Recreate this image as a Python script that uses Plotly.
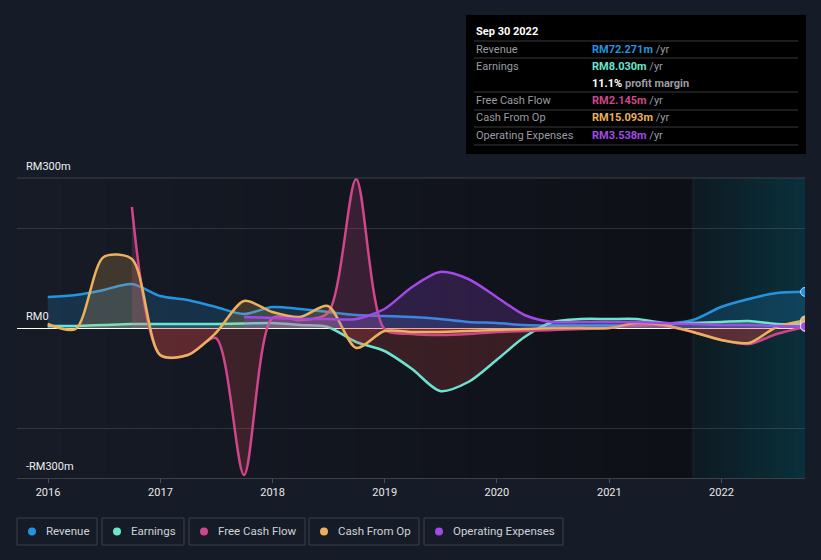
import plotly.graph_objects as go

# ---------------- data (RM millions, trailing twelve months) ----------------
dates_full = ["2015-12-31", "2016-03-31", "2016-06-30", "2016-09-30",
              "2016-12-31", "2017-03-31", "2017-06-30", "2017-09-30",
              "2017-12-31", "2018-03-31", "2018-06-30", "2018-09-30",
              "2018-12-31", "2019-03-31", "2019-06-30", "2019-09-30",
              "2019-12-31", "2020-03-31", "2020-06-30", "2020-09-30",
              "2020-12-31", "2021-03-31", "2021-06-30", "2021-09-30",
              "2021-12-31", "2022-03-31", "2022-06-30", "2022-09-30"]
revenue = [62, 66, 76, 88, 64, 56, 42, 28, 42, 38, 32, 26, 24, 22, 18, 12,
           10, 6, 5, 5, 5, 5, 8, 16, 42, 58, 70, 72.271]
earnings = [4, 4, 6, 8, 8, 8, 8, 9, 10, 6, 2, -28, -46, -82, -126, -108,
            -64, -18, 12, 18, 18, 18, 10, 10, 12, 14, 8, 8.030]
cash_from_op = [8, -2, 142, 138, -54, -54, -10, 54, 32, 22, 44, -40, -6, -8,
                -8, -6, -4, -2, 0, 0, 0, 10, 6, -8, -24, -30, 2, 15.093]
dates_fcf = dates_full[3:]
free_cash_flow = [242, -54, -54, -20, -294, 20, 16, 30, 298, -2, -12, -14, -12,
                  -8, -6, -4, -2, 0, 6, 4, -8, -24, -32, -12, 2.145]
dates_opex = dates_full[7:]
operating_expenses = [22, 20, 18, 18, 18, 38, 82, 112, 98, 62, 26, 12, 12, 12,
                      12, 10, 8, 6, 6, 4, 3.538]

year_ticks = ["2016-01-01", "2017-01-01", "2018-01-01", "2019-01-01",
              "2020-01-01", "2021-01-01", "2022-01-01"]
year_labels = ["2016", "2017", "2018", "2019", "2020", "2021", "2022"]

series_names = ["Revenue", "Earnings", "Free Cash Flow", "Cash From Op", "Operating Expenses"]
series_colors = ["#2394df", "#6ce5cf", "#d0468a", "#ecb15c", "#a349e8"]
tooltip_values = ["RM72.271m", "RM8.030m", "RM2.145m", "RM15.093m", "RM3.538m"]

# ---------------- helpers ----------------
W, H = 821, 560
L, R, T, B = 17, 16, 178, 82
PW, PH = W - L - R, H - T - B


def px(x):
    return (x - L) / PW


def py(y):
    return (H - B - y) / PH


def rgba(hexc, a):
    h = hexc.lstrip("#")
    r, g, b = int(h[0:2], 16), int(h[2:4], 16), int(h[4:6], 16)
    return f"rgba({r},{g},{b},{a})"


NEG = "#e04848"

fig = go.Figure()

series = [
    (dates_full, revenue),
    (dates_full, earnings),
    (dates_fcf, free_cash_flow),
    (dates_full, cash_from_op),
    (dates_opex, operating_expenses),
]

for (xs, ys), name, col in zip(series, series_names, series_colors):
    pos = rgba(col, 0.2)
    neg = rgba(NEG, 0.2)
    fig.add_trace(go.Scatter(
        x=xs, y=ys, name=name, mode="lines",
        line=dict(color=col, width=2.5, shape="spline", smoothing=0.8),
        fill="tozeroy",
        fillgradient=dict(type="vertical", start=-300, stop=300,
                          colorscale=[[0, neg], [0.5, neg], [0.5, pos], [1, pos]]),
        hoverinfo="skip", showlegend=False,
    ))

for (xs, ys), col in zip(series, series_colors):
    fig.add_trace(go.Scatter(
        x=[xs[-1]], y=[ys[-1]], mode="markers",
        marker=dict(color=col, size=9, line=dict(color="rgba(230,240,255,0.75)", width=1)),
        hoverinfo="skip", showlegend=False,
    ))

shapes = []
# background gradient of past region
split = px(693)
n1 = 30
c0, c1 = (22, 27, 38), (14, 16, 23)
for i in range(n1):
    t = i / (n1 - 1)
    c = tuple(round(c0[k] + (c1[k] - c0[k]) * t) for k in range(3))
    shapes.append(dict(type="rect", xref="paper", yref="paper",
                       x0=split * i / n1, x1=split * (i + 1) / n1 + 0.002,
                       y0=0, y1=1, line=dict(width=0),
                       fillcolor=f"rgb{c}", layer="below"))
n2 = 20
d0, d1 = (13, 27, 34), (10, 47, 59)
for i in range(n2):
    t = i / (n2 - 1)
    c = tuple(round(d0[k] + (d1[k] - d0[k]) * t) for k in range(3))
    shapes.append(dict(type="rect", xref="paper", yref="paper",
                       x0=split + (1 - split) * i / n2,
                       x1=min(1, split + (1 - split) * (i + 1) / n2 + 0.002),
                       y0=0, y1=1, line=dict(width=0),
                       fillcolor=f"rgb{c}", layer="below"))
shapes.append(dict(type="line", xref="paper", yref="paper", x0=split, x1=split,
                   y0=0, y1=1, line=dict(color="rgba(60,100,110,0.22)", width=1),
                   layer="below"))
# top border line at RM300m
shapes.append(dict(type="line", xref="paper", yref="paper", x0=0, x1=1,
                   y0=1, y1=1, line=dict(color="#3b4049", width=1)))

annotations = []
# y labels
for val, txt in [(300, "RM300m"), (0, "RM0"), (-300, "-RM300m")]:
    annotations.append(dict(xref="paper", yref="y", x=px(24), y=val, yshift=12,
                            text=txt, showarrow=False, xanchor="left", yanchor="middle",
                            font=dict(family="Roboto", size=11, color="#eef0f2")))

# tooltip box
shapes.append(dict(type="rect", xref="paper", yref="paper",
                   x0=px(466), x1=px(806), y0=py(154), y1=py(15),
                   fillcolor="#000000", line=dict(width=0), layer="above"))
for ly in [41, 58, 92, 110, 127, 145]:
    shapes.append(dict(type="line", xref="paper", yref="paper",
                       x0=px(474), x1=px(798), y0=py(ly), y1=py(ly),
                       line=dict(color="#3a3b3e", width=1), layer="above"))

annotations.append(dict(xref="paper", yref="paper", x=px(474), y=py(31),
                        text="<b>Sep 30 2022</b>", showarrow=False,
                        xanchor="left", yanchor="middle",
                        font=dict(family="Roboto", size=11, color="#ffffff")))
row_y = [49, 66, 100, 117, 135]
for name, col, val, yy in zip(series_names, series_colors, tooltip_values, row_y):
    annotations.append(dict(xref="paper", yref="paper", x=px(474), y=py(yy),
                            text=name, showarrow=False, xanchor="left", yanchor="middle",
                            font=dict(family="Roboto", size=11, color="#9a9ca0")))
    annotations.append(dict(xref="paper", yref="paper", x=px(590), y=py(yy),
                            text=f"<b><span style='color:{col}'>{val}</span></b>"
                                 f"<span style='color:#9a9ca0'> /yr</span>",
                            showarrow=False, xanchor="left", yanchor="middle",
                            font=dict(family="Roboto", size=11, color=col)))
annotations.append(dict(xref="paper", yref="paper", x=px(590), y=py(83),
                        text="<b>11.1%</b><span style='color:#9a9ca0'><b> profit margin</b></span>",
                        showarrow=False, xanchor="left", yanchor="middle",
                        font=dict(family="Roboto", size=11, color="#ffffff")))

# legend boxes
legend_boxes = [(17, 97), (102, 184), (189, 305), (309, 419), (424, 563)]
for (bx0, bx1), name, col in zip(legend_boxes, series_names, series_colors):
    shapes.append(dict(type="rect", xref="paper", yref="paper",
                       x0=px(bx0), x1=px(bx1), y0=py(545), y1=py(518),
                       line=dict(color="#3a3f4a", width=1), fillcolor="rgba(0,0,0,0)"))
    cx = bx0 + 15
    shapes.append(dict(type="circle", xref="paper", yref="paper",
                       x0=px(cx - 4), x1=px(cx + 4), y0=py(535.5), y1=py(527.5),
                       line=dict(width=0), fillcolor=col))
    annotations.append(dict(xref="paper", yref="paper", x=px(bx0 + 27), y=py(531),
                            text=name, showarrow=False, xanchor="left", yanchor="middle",
                            font=dict(family="Roboto", size=11.5, color="#cfd2d8")))

fig.update_layout(
    width=W, height=H,
    margin=dict(l=L, r=R, t=T, b=B),
    paper_bgcolor="#161c27", plot_bgcolor="#161c27",
    showlegend=False,
    shapes=shapes, annotations=annotations,
    xaxis=dict(type="date", range=["2015-09-22", "2022-09-30"],
               tickvals=year_ticks, ticktext=year_labels,
               showgrid=False, zeroline=False,
               showline=True, linecolor="#3b4049", linewidth=1,
               ticks="outside", ticklen=4, tickcolor="#4a4f58",
               tickfont=dict(family="Roboto", size=11, color="#e8e8e8")),
    yaxis=dict(range=[-300, 300], tickvals=[-300, -200, 200, 300],
               showticklabels=False, showgrid=True,
               gridcolor="rgba(150,160,175,0.22)", gridwidth=1,
               zeroline=True, zerolinecolor="#ffffff", zerolinewidth=1,
               fixedrange=True),
)

fig.write_html("out.html")
